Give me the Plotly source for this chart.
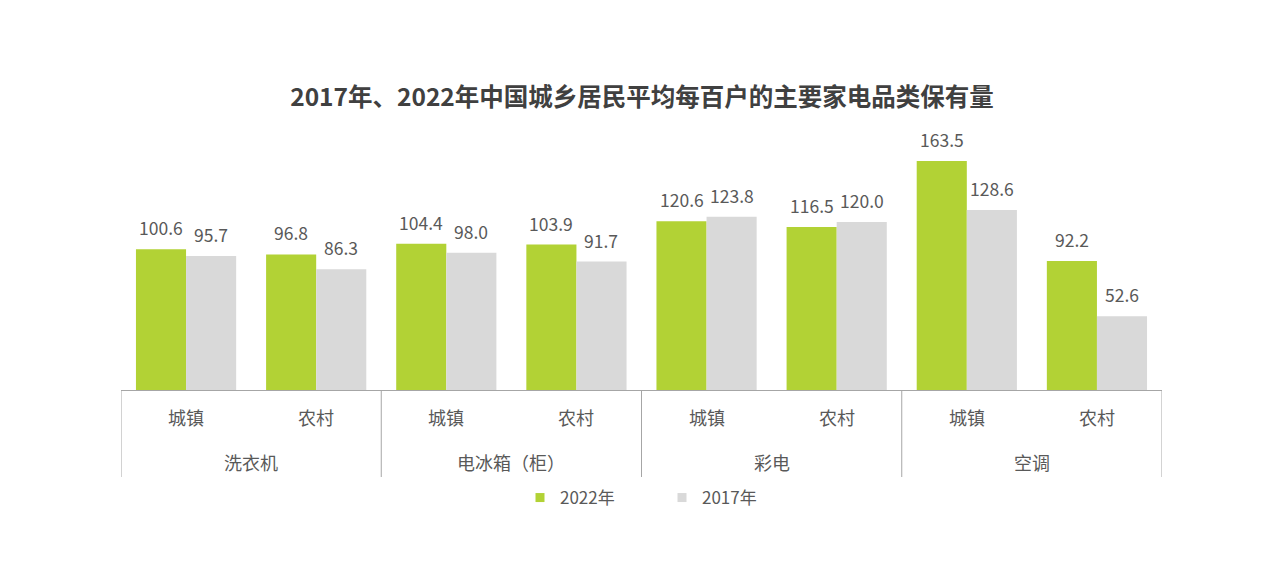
import plotly.graph_objects as go

# Data
groups = ["洗衣机", "电冰箱（柜）", "彩电", "空调"]
categories = ["洗衣机-城镇", "洗衣机-农村", "电冰箱-城镇", "电冰箱-农村",
              "彩电-城镇", "彩电-农村", "空调-城镇", "空调-农村"]
sub_labels = ["城镇", "农村", "城镇", "农村", "城镇", "农村", "城镇", "农村"]
values_2022 = [100.6, 96.8, 104.4, 103.9, 120.6, 116.5, 163.5, 92.2]
values_2017 = [95.7, 86.3, 98.0, 91.7, 123.8, 120.0, 128.6, 52.6]
series_names = ["2022年", "2017年"]

GREEN = "#b2d235"
GRAY = "#d9d9d9"
TXT = "#595959"
LINE = "#a6a6a6"
FONT = "Noto Sans CJK SC, Noto Sans, sans-serif"

W, H = 1284, 588
ML, MR, MT, MB = 121, 122, 138, 198
PH = H - MT - MB  # plot height in px
PW = W - ML - MR
YMAX = 180
BARGAP = 0.23
half = (1 - BARGAP) / 4  # offset of each bar centre from category centre

xs = list(range(len(categories)))

fig = go.Figure()
for name, vals, col in [(series_names[0], values_2022, GREEN),
                        (series_names[1], values_2017, GRAY)]:
    fig.add_trace(go.Bar(
        x=xs, y=vals, name=name, marker=dict(color=col, line=dict(width=0)),
        hoverinfo="x+y", showlegend=False, legendgroup=name,
    ))
# legend entries with small square swatches
for name, col in [(series_names[0], GREEN), (series_names[1], GRAY)]:
    fig.add_trace(go.Scatter(
        x=[None], y=[None], mode="markers", name=name, legendgroup=name,
        marker=dict(symbol="square", size=9, color=col),
    ))

annotations = []
# value labels above bars
for vals, sign in [(values_2022, -1), (values_2017, 1)]:
    for i, v in enumerate(vals):
        annotations.append(dict(x=i + sign * half, y=v, xref="x", yref="y",
                                text=f"{v:.1f}", showarrow=False,
                                yanchor="bottom", yshift=7,
                                font=dict(size=17.5, color=TXT, family=FONT)))
for i, lab in enumerate(sub_labels):
    annotations.append(dict(x=i, y=0, xref="x", yref="paper", text=lab,
                            showarrow=False, yshift=-27, yanchor="middle",
                            font=dict(size=18, color=TXT, family=FONT)))
for g, name in enumerate(groups):
    annotations.append(dict(x=2 * g + 0.5, y=0, xref="x", yref="paper", text=name,
                            showarrow=False, yshift=-72, yanchor="middle",
                            font=dict(size=18, color=TXT, family=FONT)))

shapes = []
for k in range(len(groups) + 1):
    xpos = 2 * k - 0.5
    shapes.append(dict(type="line", xref="x", yref="paper", x0=xpos, x1=xpos,
                       y0=0, y1=-(477 - 390) / PH, line=dict(color=LINE, width=1)))

fig.update_layout(
    width=W, height=H,
    margin=dict(l=ML, r=MR, t=MT, b=MB, autoexpand=False),
    paper_bgcolor="white", plot_bgcolor="white",
    barmode="group", bargap=BARGAP, bargroupgap=0,
    title=dict(text="<b>2017年、2022年中国城乡居民平均每百户的主要家电品类保有量</b>",
               x=0.5, xanchor="center", y=1 - 97 / H, yanchor="middle",
               yref="container",
               font=dict(size=24.5, color="#404040", family=FONT)),
    xaxis=dict(range=[-0.5, len(categories) - 0.5], showticklabels=False,
               showgrid=False, zeroline=False, showline=True,
               linecolor=LINE, linewidth=1, ticks=""),
    yaxis=dict(range=[0, YMAX], visible=False, showgrid=False, zeroline=False),
    legend=dict(orientation="h", x=(541 - 21 - ML) / PW, xanchor="left",
                y=-(498 - 390) / PH, yanchor="middle",
                font=dict(size=17, color=TXT, family=FONT),
                entrywidth=97, entrywidthmode="pixels",
                itemsizing="trace", traceorder="normal"),
    annotations=annotations, shapes=shapes,
    showlegend=True,
)

fig.write_html("out.html")
